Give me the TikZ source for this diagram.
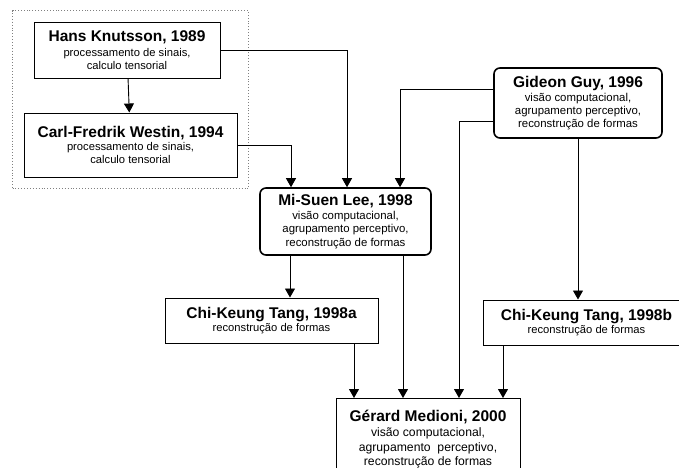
\documentclass[tikz,border=0pt]{standalone}
\usepackage{fontspec}
\setmainfont{Liberation Sans}
\usetikzlibrary{arrows.meta, positioning, calc, fit}

\newcommand{\titulo}[1]{{\fontsize{15.5}{18}\selectfont\bfseries #1}}

\tikzset{
  caixa/.style={draw, line width=1pt, align=center, inner sep=0pt,
    font=\fontsize{11.2}{12.6}\selectfont},
  caixaR/.style={caixa, rounded corners=6pt, line width=1.6pt},
  liga/.style={line width=0.9pt, -{Triangle[width=10pt,length=9pt]}},
}

\begin{document}
\begin{tikzpicture}[x=1pt, y=-1pt]
      \clip (0,0) rectangle (679,467);
      \fill[white] (0,0) rectangle (679,467);

      \node[caixa, minimum width=186pt, minimum height=56pt] (hans) at (127,50)
        {\titulo{Hans Knutsson, 1989}\\[2.5pt] processamento de sinais,\\ calculo tensorial};
      \node[caixa, minimum width=213pt, minimum height=64pt] (westin) at (130.5,145)
        {\titulo{Carl-Fredrik Westin, 1994}\\ processamento de sinais,\\ calculo tensorial};
      \node[caixaR, minimum width=171pt, minimum height=67pt,
        font=\fontsize{11.4}{13.8}\selectfont] (misuen) at (345.5,221.5)
        {\titulo{Mi-Suen Lee, 1998}\\ visão computacional,\\ agrupamento perceptivo,\\ reconstrução de formas};
      \node[caixaR, minimum width=168pt, minimum height=70pt,
        font=\fontsize{11.4}{12.6}\selectfont] (gideon) at (578,103)
        {\titulo{Gideon Guy, 1996}\\[1.5pt] visão computacional,\\ agrupamento perceptivo,\\ reconstrução de formas};
      \node[caixa, minimum width=213pt, minimum height=45pt] (tanga) at (271.5,320.5)
        {\titulo{Chi-Keung Tang, 1998a}\\ reconstrução de formas};
      \node[caixa, minimum width=207pt, minimum height=45pt] (tangb) at (586.5,322.5)
        {\titulo{Chi-Keung Tang, 1998b}\\ reconstrução de formas};
      \node[caixa, minimum width=184pt, inner ysep=12pt, anchor=north,
        font=\fontsize{12.2}{14.6}\selectfont] (medioni) at (428,398)
        {\titulo{Gérard Medioni, 2000}\\ visão computacional,\\ agrupamento\ \ perceptivo,\\ reconstrução de formas};

      % grupo de processamento de sinais
      \node[draw=gray, dotted, line width=0.9pt, inner sep=11pt, fit=(hans) (westin)] (grupo) {};

      % pontos de saida e chegada
      \coordinate (m1) at ([xshift=-55.5pt]misuen.south);
      \coordinate (m2) at ([xshift=57.5pt]misuen.south);
      \coordinate (ta) at ([xshift=82.5pt]tanga.south);
      \coordinate (tb) at ([xshift=-83.5pt]tangb.south);

      \draw[liga] (hans) -- (westin);
      \draw[liga] (hans.east) -| ([xshift=1.5pt]misuen.north);
      \draw[liga] (westin.east) -| ([xshift=-54.5pt]misuen.north);
      \draw[liga] ([yshift=14pt]gideon.west) -| ([xshift=54.5pt]misuen.north);
      \draw[liga] ([yshift=-18pt]gideon.west) -| ([xshift=31pt]medioni.north);
      \draw[liga] (gideon.south) -- (gideon.south |- tangb.north);
      \draw[liga] (m1) -- (m1 |- tanga.north);
      \draw[liga] (m2) -- (m2 |- medioni.north);
      \draw[liga] (ta) -- (ta |- medioni.north);
      \draw[liga] (tb) -- (tb |- medioni.north);

    \end{tikzpicture}
\end{document}
